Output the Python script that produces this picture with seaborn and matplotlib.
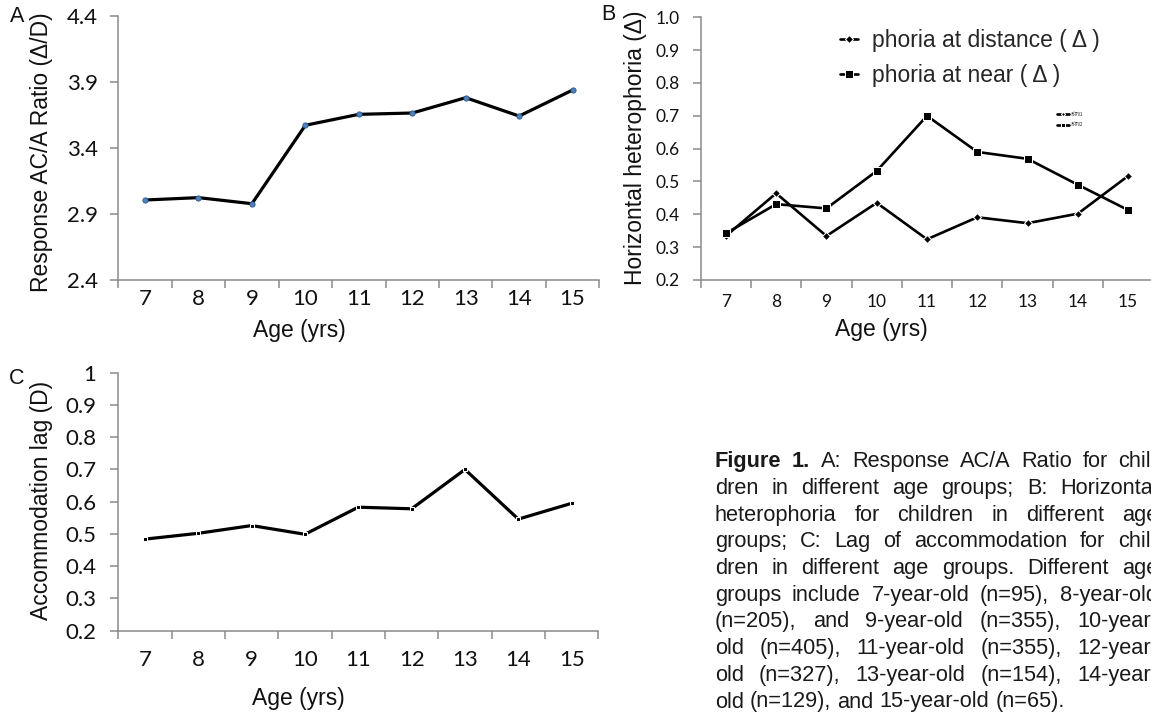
import numpy as np
import matplotlib.pyplot as plt
import seaborn as sns

sns.set_theme(style="white")
plt.rcParams['font.family'] = ['Liberation Sans', 'DejaVu Sans']

# data
ages = [7, 8, 9, 10, 11, 12, 13, 14, 15]
ac_a_ratio = [3.006, 3.024, 2.978, 3.572, 3.655, 3.665, 3.781, 3.642, 3.839]
phoria_distance = [0.334, 0.464, 0.334, 0.435, 0.324, 0.391, 0.373, 0.402, 0.517]
phoria_near = [0.342, 0.431, 0.418, 0.532, 0.700, 0.590, 0.569, 0.490, 0.413]
accommodation_lag = [0.484, 0.502, 0.526, 0.499, 0.583, 0.578, 0.700, 0.546, 0.595]

a_ticks = [2.4, 2.9, 3.4, 3.9, 4.4]
a_ticklabels = ['2.4', '2.9', '3.4', '3.9', '4.4']
b_ticks = [0.2, 0.3, 0.4, 0.5, 0.6, 0.7, 0.8, 0.9, 1.0]
b_ticklabels = ['0.2', '0.3', '0.4', '0.5', '0.6', '0.7', '0.8', '0.9', '1.0']
c_ticks = [0.2, 0.3, 0.4, 0.5, 0.6, 0.7, 0.8, 0.9, 1.0]
c_ticklabels = ['0.2', '0.3', '0.4', '0.5', '0.6', '0.7', '0.8', '0.9', '1']

caption_lines = [
    "Figure 1. A: Response AC/A Ratio for chil-",
    "dren in different age groups; B: Horizontal",
    "heterophoria for children in different age",
    "groups; C: Lag of accommodation for chil-",
    "dren in different age groups. Different age",
    "groups include 7-year-old (n=95), 8-year-old",
    "(n=205), and 9-year-old (n=355), 10-year-",
    "old (n=405), 11-year-old (n=355), 12-year-",
    "old (n=327), 13-year-old (n=154), 14-year-",
    "old (n=129), and 15-year-old (n=65).",
]

W, H = 1151, 714
GRAY = '#8a8a8a'
fig = plt.figure(figsize=(W / 100, H / 100), dpi=100)


def axes_px(left, top, right, bottom):
    return fig.add_axes([left / W, 1 - bottom / H, (right - left) / W, (bottom - top) / H])


def style(ax, ticks, ticklabels, ylim, tsize, xpad, ypad, ylabel, ylab_xy, xlab_xy, lsize=16.5):
    ax.set_xlim(6.5, 15.5)
    ax.set_xticks(ages)
    ax.set_xticklabels([str(a) for a in ages])
    ax.set_xticks(np.arange(6.5, 15.6, 1.0), minor=True)
    ax.set_ylim(ylim)
    ax.set_yticks(ticks)
    ax.set_yticklabels(ticklabels)
    ax.tick_params(axis='x', which='major', length=0, pad=xpad, labelsize=tsize,
                   labelcolor='#111111', labelfontfamily='Lato')
    ax.tick_params(axis='x', which='minor', bottom=True, length=5.5, width=1.1, color=GRAY)
    ax.tick_params(axis='y', left=True, length=5.5, width=1.1, color=GRAY, pad=ypad,
                   labelsize=tsize, labelcolor='#111111', labelfontfamily='Lato')
    sns.despine(ax=ax)
    for s in ('left', 'bottom'):
        ax.spines[s].set_color(GRAY)
        ax.spines[s].set_linewidth(1.1)
    ax.set_ylabel(ylabel, fontsize=lsize, color='#111111', va='center')
    ax.yaxis.set_label_coords(*ylab_xy)
    ax.set_xlabel('Age (yrs)', fontsize=lsize, color='#111111', va='center')
    ax.xaxis.set_label_coords(*xlab_xy)
    ax.set_facecolor('white')


# Panel A
axA = axes_px(118.3, 16, 599.3, 280)
sns.lineplot(x=ages, y=ac_a_ratio, ax=axA, color='black', linewidth=2.3, marker='o',
             markersize=3.8, markerfacecolor='#4f81bd', markeredgecolor='#2c5a8c',
             markeredgewidth=0.6)
style(axA, a_ticks, a_ticklabels, (2.4, 4.4), 16, 6.5, 9,
      'Response AC/A Ratio (\u0394/D)', (-0.159, 0.485), (0.376, -0.19))

# Panel B
axB = axes_px(700.7, 17.3, 1153.3, 280)
sns.lineplot(x=ages, y=phoria_distance, ax=axB, color='black', linewidth=1.9,
             marker='D', markersize=3.6, label='phoria at distance ( \u0394 )')
sns.lineplot(x=ages, y=phoria_near, ax=axB, color='black', linewidth=1.9,
             marker='s', markersize=5.8, label='phoria at near ( \u0394 )')
style(axB, b_ticks, b_ticklabels, (0.2, 1.0), 12.5, 10, 9.5,
      'Horizontal heterophoria (\u0394)', (-0.143, 0.502), (0.40, -0.187))
handles = axB.get_lines()[:2]
leg1 = axB.legend(handles=handles, labels=['phoria at distance ( \u0394 )', 'phoria at near ( \u0394 )'],
                  loc='upper left', bbox_to_anchor=(0.308, 0.955), frameon=False,
                  fontsize=16.5, handlelength=0.8, handletextpad=0.6, labelspacing=0.5,
                  borderpad=0, borderaxespad=0, markerscale=1.0)
axB.add_artist(leg1)
axB.legend(handles=handles, labels=['系列1', '系列2'], loc='upper left',
           bbox_to_anchor=(0.787, 0.64), frameon=False, markerscale=0.6,
           prop={'family': ['Noto Sans CJK SC', 'DejaVu Sans'], 'size': 3.5},
           handlelength=2.5, handletextpad=0.3, labelspacing=1.1, borderpad=0, borderaxespad=0)

# Panel C
axC = axes_px(118.3, 372.7, 598.3, 630.7)
sns.lineplot(x=ages, y=accommodation_lag, ax=axC, color='black', linewidth=2.3,
             marker='s', markersize=3.2)
style(axC, c_ticks, c_ticklabels, (0.2, 1.0), 16, 14, 10.5,
      'Accommodation lag (D)', (-0.159, 0.503), (0.376, -0.261))

# panel letters
for letter, (x, y) in zip('ABC', [(17.5, 16), (608, 15), (17, 378)]):
    fig.text(x / W, 1 - y / H, letter, fontsize=15.5, ha='center', va='center', color='#111111')

# justified caption (right side runs off the page, as in the original)
renderer = fig.canvas.get_renderer()
x0, x1 = 715, 1158
cap_size = 15.7
for i, line in enumerate(caption_lines):
    y = 1 - (461.7 + i * 26.7) / H
    words = line.split(' ')
    texts = []
    for j, w in enumerate(words):
        bold = (i == 0 and j < 2)
        texts.append(fig.text(0, y, w, fontsize=cap_size, va='center', ha='left',
                              color='#1a1a1a', fontweight='bold' if bold else 'normal'))
    widths = [t.get_window_extent(renderer).width for t in texts]
    if i < len(caption_lines) - 1:
        gap = (x1 - x0 - sum(widths)) / (len(words) - 1)
    else:
        gap = cap_size * 100 / 72 * 0.278
    x = x0
    for t, w in zip(texts, widths):
        t.set_x(x / W)
        x += w + gap

fig.savefig('out.png', dpi=100, facecolor='white')
